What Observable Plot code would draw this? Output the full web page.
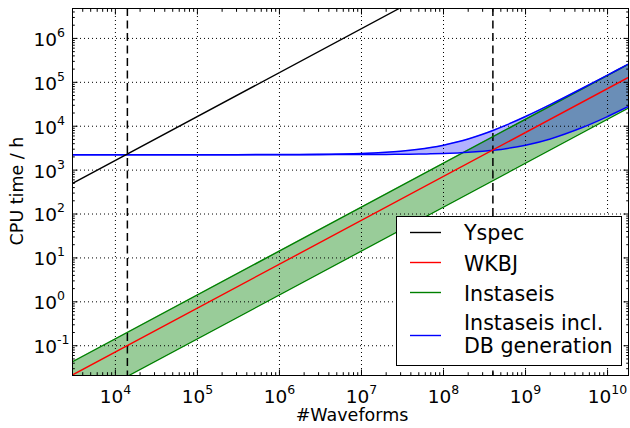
<!DOCTYPE html>
<html><head><meta charset="utf-8">
<script src="https://cdn.jsdelivr.net/npm/d3@7"></script>
<script src="https://cdn.jsdelivr.net/npm/@observablehq/plot@0.6"></script>
<style>
body{margin:0;background:#fff;}
#chart{position:relative;width:630px;height:428px;}
svg{font-family:"DejaVu Sans",sans-serif;}
</style>
</head><body><div id="chart"></div>
<script>
// ---- data ----
const waveX    = [3e3, 2e10];            // #Waveforms at the ends of the straight series
const wkbjY    = [0.0216, 1.44e5];       // WKBJ CPU time / h
const instLoY  = [0.00432, 2.88e4];      // Instaseis lower bound
const instHiY  = [0.0432, 2.88e5];       // Instaseis upper bound
const yspecX   = [3e3, 3e7];
const yspecY   = [500, 5e6];             // Yspec CPU time / h
const dbX   = [3e3, 1e4, 3e4, 1e5, 3e5, 1e6, 3e6, 1e7, 2e7, 3e7, 5e7, 7e7, 1e8, 1.5e8, 2e8, 3e8, 4e8, 6e8, 1e9, 2e9, 5e9, 1e10, 2e10];
const dbLoY = [2250, 2250, 2250, 2250, 2250, 2251, 2254, 2264, 2279, 2293, 2322, 2351, 2394, 2466, 2538, 2682, 2826, 3114, 3690, 5130, 9450, 16650, 31050];
const dbHiY = [2250, 2250, 2250, 2251, 2254, 2264, 2293, 2394, 2538, 2682, 2970, 3258, 3690, 4410, 5130, 6570, 8010, 10890, 16650, 31050, 74250, 146250, 290250];
const markerX = [1.4e4, 4e8];            // dashed vertical lines
const xMajor = [1e4, 1e5, 1e6, 1e7, 1e8, 1e9, 1e10];
const yMajor = [1e-1, 1e0, 1e1, 1e2, 1e3, 1e4, 1e5, 1e6];
const seriesNames  = ["Yspec", "WKBJ", "Instaseis", "Instaseis incl.|DB generation"];
const seriesColors = ["black", "red", "#008000", "blue"];
const xDomain = [3e3, 1.8e10];
const yDomain = [0.021, 4.8e6];

// ---- tables ----
const straight = waveX.map((x, i) => ({x, wkbj: wkbjY[i], lo: instLoY[i], hi: instHiY[i]}));
const yspec = yspecX.map((x, i) => ({x, y: yspecY[i]}));
const db = dbX.map((x, i) => ({x, lo: dbLoY[i], hi: dbHiY[i]}));

function minors(lo, hi) {
  const out = [];
  for (let e = Math.floor(Math.log10(lo)); e <= Math.ceil(Math.log10(hi)); e++)
    for (let k = 2; k <= 9; k++) { const v = k * Math.pow(10, e); if (v >= lo && v <= hi) out.push(v); }
  return out;
}
const xMinor = minors(...xDomain);
const yMinor = minors(...yDomain);
const fmt = d => "10^" + Math.round(Math.log10(d));
const noText = () => "";
const MAJ = 5.5, MIN = 2.8;
const TICKFONT = 18.5;

const plot = Plot.plot({
  width: 630, height: 428,
  marginLeft: 72, marginRight: 2, marginTop: 8, marginBottom: 53,
  x: {type: "log", domain: xDomain, axis: null, label: null},
  y: {type: "log", domain: yDomain, axis: null, label: null},
  style: {fontFamily: "DejaVu Sans", background: "white", overflow: "visible"},
  marks: [
    Plot.areaY(straight, {x: "x", y1: "lo", y2: "hi", fill: seriesColors[2], fillOpacity: 0.4, clip: true}),
    Plot.areaY(db, {x: "x", y1: "lo", y2: "hi", fill: seriesColors[3], fillOpacity: 0.3, curve: "catmull-rom", clip: true}),
    Plot.ruleX(xMajor, {stroke: "black", strokeWidth: 1, strokeDasharray: "1,3"}),
    Plot.ruleY(yMajor, {stroke: "black", strokeWidth: 1, strokeDasharray: "1,3"}),
    Plot.ruleX(markerX, {stroke: "black", strokeWidth: 1.5, strokeDasharray: "8,4.5"}),
    Plot.line(straight, {x: "x", y: "lo", stroke: seriesColors[2], strokeWidth: 1.4, clip: true}),
    Plot.line(straight, {x: "x", y: "hi", stroke: seriesColors[2], strokeWidth: 1.4, clip: true}),
    Plot.line(db, {x: "x", y: "lo", stroke: seriesColors[3], strokeWidth: 1.5, curve: "catmull-rom", clip: true}),
    Plot.line(db, {x: "x", y: "hi", stroke: seriesColors[3], strokeWidth: 1.5, curve: "catmull-rom", clip: true}),
    Plot.line(straight, {x: "x", y: "wkbj", stroke: seriesColors[1], strokeWidth: 1.4, clip: true}),
    Plot.line(yspec, {x: "x", y: "y", stroke: seriesColors[0], strokeWidth: 1.4, clip: true}),
    Plot.frame({stroke: "black", strokeWidth: 1}),
    // inward ticks on all four sides
    Plot.axisX(xMajor, {anchor: "bottom", tickSize: MAJ, dy: -MAJ, tickFormat: noText, label: null, stroke: "black"}),
    Plot.axisX(xMinor, {anchor: "bottom", tickSize: MIN, dy: -MIN, tickFormat: noText, label: null, stroke: "black"}),
    Plot.axisX(xMajor, {anchor: "top", tickSize: MAJ, dy: MAJ, tickFormat: noText, label: null, stroke: "black"}),
    Plot.axisX(xMinor, {anchor: "top", tickSize: MIN, dy: MIN, tickFormat: noText, label: null, stroke: "black"}),
    Plot.axisY(yMajor, {anchor: "left", tickSize: MAJ, dx: MAJ, tickFormat: noText, label: null, stroke: "black"}),
    Plot.axisY(yMinor, {anchor: "left", tickSize: MIN, dx: MIN, tickFormat: noText, label: null, stroke: "black"}),
    Plot.axisY(yMajor, {anchor: "right", tickSize: MAJ, dx: -MAJ, tickFormat: noText, label: null, stroke: "black"}),
    Plot.axisY(yMinor, {anchor: "right", tickSize: MIN, dx: -MIN, tickFormat: noText, label: null, stroke: "black"}),
    // tick labels
    Plot.axisX(xMajor, {anchor: "bottom", tickSize: 0, tickPadding: 14, tickFormat: fmt, fontSize: TICKFONT, label: null, fill: "black"}),
    Plot.text(yMajor, {y: d => d, frameAnchor: "left", text: fmt, textAnchor: "start", dx: -39, dy: 1.5, fontSize: TICKFONT, fill: "black"})
  ]
});

document.getElementById("chart").appendChild(plot);
const svg = plot.tagName.toLowerCase() === "svg" ? plot : plot.querySelector("svg");
const NS = "http://www.w3.org/2000/svg";

// superscript exponents
svg.querySelectorAll("text").forEach(t => {
  const m = /^10\^(-?\d+)$/.exec(t.textContent.trim());
  if (!m) return;
  t.textContent = "10";
  const ts = document.createElementNS(NS, "tspan");
  ts.setAttribute("dy", "-9");
  ts.setAttribute("font-size", "12.5");
  ts.textContent = m[1];
  t.appendChild(ts);
});

const s = d3.select(svg);
// axis titles
s.append("text").attr("x", 352).attr("y", 421).attr("text-anchor", "middle")
  .attr("font-size", 17.5).attr("fill", "black").text("#Waveforms");
s.append("text").attr("transform", "translate(23,191) rotate(-90)").attr("text-anchor", "middle")
  .attr("font-size", 17.5).attr("fill", "black").text("CPU time / h");

// legend
const lg = s.append("g").attr("font-size", 20.6).attr("fill", "black").attr("text-anchor", "start");
lg.append("rect").attr("x", 396.5).attr("y", 216.5).attr("width", 225).attr("height", 149)
  .attr("fill", "white").attr("stroke", "black").attr("stroke-width", 1);
const lineY = [232.5, 262.5, 292.5, 335.5];
const textY = [[240], [270.5], [300.5], [330, 352.5]];
seriesNames.forEach((name, i) => {
  lg.append("line").attr("x1", 410).attr("x2", 441).attr("y1", lineY[i]).attr("y2", lineY[i])
    .attr("stroke", seriesColors[i]).attr("stroke-width", 1.4);
  name.split("|").forEach((part, j) => {
    lg.append("text").attr("x", 464).attr("y", textY[i][j]).attr("text-anchor", "start").text(part);
  });
});
</script>
</body></html>
